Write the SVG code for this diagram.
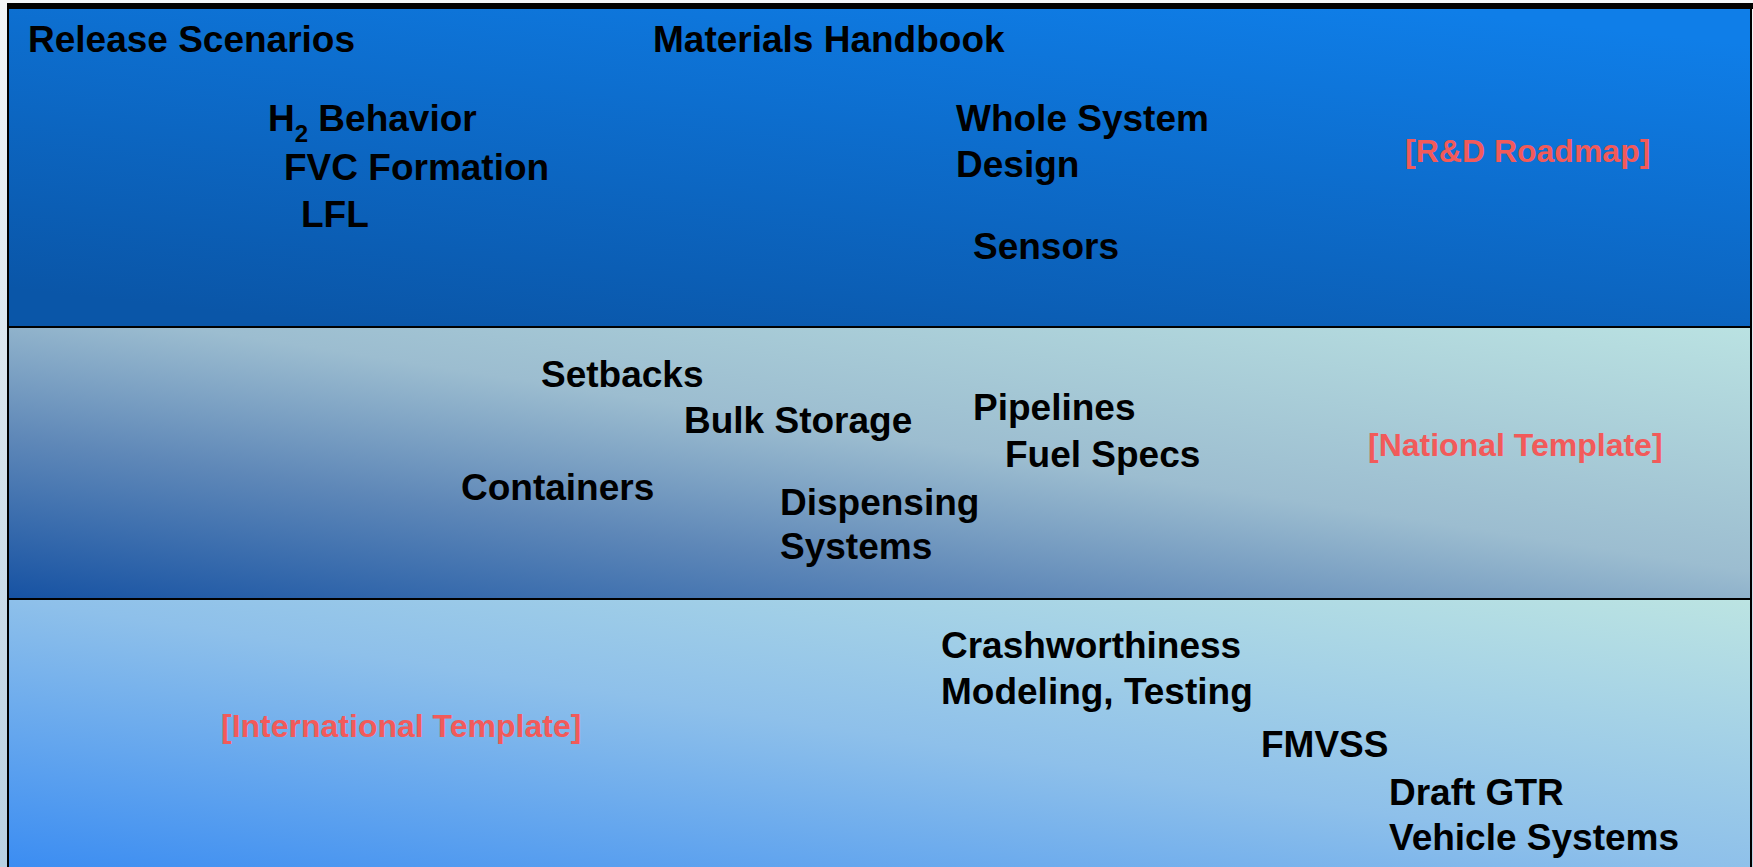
<svg xmlns="http://www.w3.org/2000/svg" width="1753" height="867" viewBox="0 0 1753 867">
  <defs>
    <linearGradient id="gTop" x1="0.2" y1="1" x2="0.8" y2="0">
      <stop offset="0" stop-color="#0a56a8"/>
      <stop offset="1" stop-color="#0f7ee8"/>
    </linearGradient>
    <linearGradient id="gMid" x1="0" y1="1" x2="1" y2="0">
      <stop offset="0" stop-color="#1652a3"/>
      <stop offset="0.3" stop-color="#5f88b8"/>
      <stop offset="0.55" stop-color="#9cbdd0"/>
      <stop offset="1" stop-color="#bae2e2"/>
    </linearGradient>
    <linearGradient id="gBot" x1="0" y1="1" x2="1" y2="0">
      <stop offset="0" stop-color="#3a8cf2"/>
      <stop offset="0.5" stop-color="#8ec0ea"/>
      <stop offset="1" stop-color="#bce4e2"/>
    </linearGradient>
    <linearGradient id="gSide" x1="0" y1="0" x2="0" y2="1">
      <stop offset="0" stop-color="#f2f5f8"/>
      <stop offset="1" stop-color="#b8d0e2"/>
    </linearGradient>
  </defs>
  <style>
    .t { font-family: "Liberation Sans", Arial, sans-serif; font-weight: bold; font-size: 37px; fill: #000; }
    .r { font-family: "Liberation Sans", Arial, sans-serif; font-weight: bold; font-size: 32px; fill: #f25a5a; }
    .band { stroke: #000; stroke-width: 2; }
  </style>
  <rect x="0" y="0" width="1753" height="867" fill="url(#gSide)"/>
  <g id="band-rd">
    <rect class="band" x="8" y="6" width="1743" height="321" fill="url(#gTop)"/>
    <rect x="7" y="3" width="1746" height="6" fill="#000"/>
  </g>
  <g id="band-national">
    <rect class="band" x="8" y="327" width="1743" height="272" fill="url(#gMid)"/>
  </g>
  <g id="band-international">
    <rect class="band" x="8" y="599" width="1743" height="272" fill="url(#gBot)"/>
  </g>

  <g id="node-release"><text class="t" x="28" y="52">Release Scenarios</text></g>
  <g id="node-materials"><text class="t" x="653" y="52">Materials Handbook</text></g>
  <g id="node-h2"><text class="t" x="268" y="131">H<tspan font-size="24" dy="11">2</tspan><tspan dy="-11"> Behavior</tspan></text></g>
  <g id="node-fvc"><text class="t" x="284" y="180">FVC Formation</text></g>
  <g id="node-lfl"><text class="t" x="301" y="227">LFL</text></g>
  <g id="node-whole"><text class="t" x="956" y="131">Whole System</text><text class="t" x="956" y="177">Design</text></g>
  <g id="node-sensors"><text class="t" x="973" y="259">Sensors</text></g>
  <g id="label-rd"><text class="r" x="1405" y="162">[R&amp;D Roadmap]</text></g>

  <g id="node-setbacks"><text class="t" x="541" y="387">Setbacks</text></g>
  <g id="node-bulk"><text class="t" x="684" y="433">Bulk Storage</text></g>
  <g id="node-pipelines"><text class="t" x="973" y="420">Pipelines</text></g>
  <g id="node-fuel"><text class="t" x="1005" y="467">Fuel Specs</text></g>
  <g id="label-national"><text class="r" x="1368" y="456">[National Template]</text></g>
  <g id="node-containers"><text class="t" x="461" y="500">Containers</text></g>
  <g id="node-dispensing"><text class="t" x="780" y="515">Dispensing</text><text class="t" x="780" y="559">Systems</text></g>

  <g id="node-crash"><text class="t" x="941" y="658">Crashworthiness</text><text class="t" x="941" y="704">Modeling, Testing</text></g>
  <g id="label-international"><text class="r" x="221" y="737">[International Template]</text></g>
  <g id="node-fmvss"><text class="t" x="1261" y="757">FMVSS</text></g>
  <g id="node-gtr"><text class="t" x="1389" y="805">Draft GTR</text><text class="t" x="1389" y="850">Vehicle Systems</text></g>

  <g id="connectors"></g>
</svg>
